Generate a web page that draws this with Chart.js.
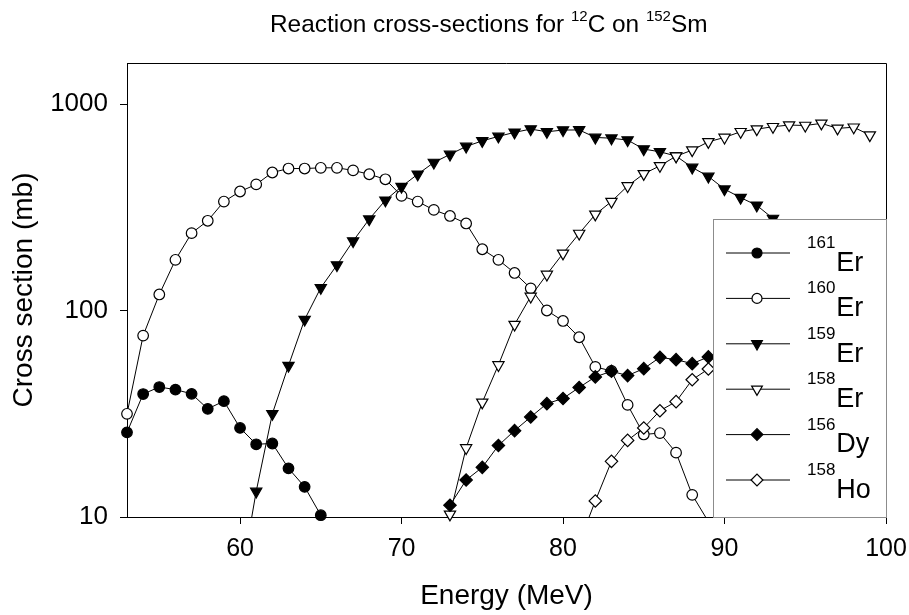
<!DOCTYPE html>
<html>
<head>
<meta charset="utf-8">
<script src="https://cdn.jsdelivr.net/npm/chart.js@4.4.1/dist/chart.umd.min.js"></script>
<style>
  body { margin: 0; background: #fff; }
  #wrap { position: relative; width: 909px; height: 615px; }
  #title { position: absolute; left: 270px; top: 10px; font: 24.4px "Liberation Sans", Arial, sans-serif; line-height: 28px; white-space: nowrap; color: #000; }
  #title sup { font-size: 15px; vertical-align: baseline; position: relative; top: -11px; }
</style>
</head>
<body>
<div id="wrap">
  <canvas id="chart" width="909" height="615"></canvas>
  <div id="title">Reaction cross-sections for <sup>12</sup>C on <sup>152</sup>Sm</div>
</div>
<script>
// energies (MeV) and cross sections (mb)
const energy161Er = [53, 54, 55, 56, 57, 58, 59, 60, 61, 62, 63, 64, 65];
const er161 = [25.7, 39.4, 42.6, 41.4, 39.5, 33.4, 36.4, 27.0, 22.5, 22.7, 17.2, 14.0, 10.2];

const energy160Er = [53, 54, 55, 56, 57, 58, 59, 60, 61, 62, 63, 64, 65, 66, 67, 68, 69, 70, 71,
  72, 73, 74, 75, 76, 77, 78, 79, 80, 81, 82, 83, 84, 85, 86, 87, 88, 89];
const er160 = [31.6, 75.6, 119.6, 176, 237, 272, 337, 377, 408, 466, 487, 487, 491, 491, 477, 457, 432, 359, 337,
  307, 287, 264, 198, 176, 152, 128, 100, 89, 74.2, 53.3, 51, 34.9, 25.1, 25.5, 20.5, 12.8, 9.5];

const energy159Er = [60, 61, 62, 63, 64, 65, 66, 67, 68, 69, 70, 71, 72, 73, 74, 75, 76, 77,
  78, 79, 80, 81, 82, 83, 84, 85, 86, 87, 88, 89, 90, 91, 92, 93, 94];
const er159 = [4.7, 13.3, 31.6, 54.1, 90.4, 128.9, 166, 217, 277, 342, 398, 457, 521, 570, 623, 663, 697, 729,
  756, 734, 748, 749, 689, 683, 669, 605, 587, 560, 493, 446, 387, 352, 323, 279, 245];

const energy158Er = [73, 74, 75, 76, 77, 78, 79, 80, 81, 82, 83, 84, 85, 86, 87, 88, 89, 90, 91,
  92, 93, 94, 95, 96, 97, 98, 99];
const er158 = [10.3, 21.6, 35.9, 54.5, 85.5, 117, 149.5, 189, 236, 292, 337, 401, 459, 502, 559, 598, 656, 689, 734,
  756, 776, 791, 787, 806, 762, 772, 707];

const energy156Dy = [73, 74, 75, 76, 77, 78, 79, 80, 81, 82, 83, 84, 85, 86, 87, 88, 89];
const dy156 = [11.4, 15.1, 17.4, 22.2, 26.2, 30.5, 35.4, 37.5, 42.4, 47.7, 50.8, 48.4, 52.3, 59.3, 57.8, 55.3, 59.6];

const energy158Ho = [81, 82, 83, 84, 85, 86, 87, 88, 89];
const ho158 = [7.5, 11.96, 18.6, 23.5, 27.0, 32.7, 36.2, 46.2, 52.1];

const legendMass = ['161', '160', '159', '158', '156', '158'];
const legendElem = ['Er', 'Er', 'Er', 'Er', 'Dy', 'Ho'];

const xTicks = [60, 70, 80, 90, 100];
const yTicks = [10, 100, 1000];
const xMin = 53, xMax = 100, yMin = 10, yMax = 1580;

const FONT = '"Liberation Sans", Arial, sans-serif';

const seriesList = [
  { x: energy161Er, y: er161, style: 'circle', radius: 5.3, rotation: 0, fill: '#000' },
  { x: energy160Er, y: er160, style: 'circle', radius: 5.3, rotation: 0, fill: '#fff' },
  { x: energy159Er, y: er159, style: 'triangle', radius: 6.5, rotation: 180, fill: '#000' },
  { x: energy158Er, y: er158, style: 'triangle', radius: 6.5, rotation: 180, fill: '#fff' },
  { x: energy156Dy, y: dy156, style: 'rectRot', radius: 6.2, rotation: 0, fill: '#000' },
  { x: energy158Ho, y: ho158, style: 'rectRot', radius: 6.2, rotation: 0, fill: '#fff' }
];

const datasets = [];
seriesList.forEach((s, i) => {
  const pts = s.x.map((e, k) => ({ x: e, y: s.y[k] }));
  // line, clipped to the plot
  datasets.push({
    data: pts, showLine: true, borderColor: '#000', borderWidth: 1,
    pointRadius: 0, clip: 0, order: 100 - 2 * i
  });
  // markers, not clipped
  datasets.push({
    data: pts.filter(p => p.y >= yMin), showLine: false,
    pointStyle: s.style, pointRadius: s.radius, pointRotation: s.rotation,
    pointBackgroundColor: s.fill, pointBorderColor: '#000', pointBorderWidth: 1.2,
    clip: false, order: 99 - 2 * i
  });
});

const framePlugin = {
  id: 'frame',
  beforeDatasetsDraw(chart) {
    const { ctx, chartArea: a } = chart;
    ctx.save();
    ctx.strokeStyle = '#000';
    ctx.lineWidth = 1;
    ctx.beginPath();
    ctx.moveTo(Math.round(a.left), Math.round(a.top) + 0.5);
    ctx.lineTo(Math.round(a.right) + 0.5, Math.round(a.top) + 0.5);
    ctx.lineTo(Math.round(a.right) + 0.5, Math.round(a.bottom));
    ctx.stroke();
    ctx.restore();
  }
};

const legendPlugin = {
  id: 'boxLegend',
  afterDatasetsDraw(chart) {
    const { ctx, chartArea: a } = chart;
    const x0 = Math.round(a.right) - 173, y0 = Math.round(a.top) + 156;
    const x1 = Math.round(a.right), y1 = Math.round(a.bottom);
    ctx.save();
    ctx.fillStyle = '#fff';
    ctx.fillRect(x0, y0, x1 - x0 + 1, y1 - y0 + 1);
    ctx.strokeStyle = '#8c8c8c';
    ctx.lineWidth = 1;
    ctx.strokeRect(x0 + 0.5, y0 + 0.5, x1 - x0, y1 - y0);

    seriesList.forEach((s, i) => {
      const y = y0 + 34 + i * 45.4;
      ctx.strokeStyle = '#000';
      ctx.lineWidth = 1;
      ctx.beginPath();
      ctx.moveTo(x0 + 13, y);
      ctx.lineTo(x0 + 77, y);
      ctx.stroke();
      ctx.fillStyle = s.fill;
      ctx.lineWidth = 1.2;
      Chart.helpers.drawPoint(ctx, { pointStyle: s.style, radius: s.radius - 0.3, rotation: s.rotation, borderWidth: 1.2 }, x0 + 44, y);

      ctx.fillStyle = '#000';
      ctx.textAlign = 'left';
      ctx.textBaseline = 'alphabetic';
      ctx.font = '17px ' + FONT;
      ctx.fillText(legendMass[i], x0 + 94, y - 5);
      const w = ctx.measureText(legendMass[i]).width;
      ctx.font = '27px ' + FONT;
      ctx.fillText(legendElem[i], x0 + 94 + w + 1, y + 17.7);
    });
    ctx.restore();
  }
};

new Chart(document.getElementById('chart'), {
  type: 'scatter',
  data: { datasets: datasets },
  options: {
    responsive: false,
    animation: false,
    events: [],
    layout: { padding: { left: 0, top: 63, right: 23, bottom: 0 } },
    plugins: {
      legend: { display: false },
      tooltip: { enabled: false },
      title: { display: false }
    },
    scales: {
      x: {
        type: 'linear',
        min: xMin,
        max: xMax,
        afterBuildTicks: axis => { axis.ticks = xTicks.map(v => ({ value: v })); },
        afterFit: axis => { axis.height = 98; axis.paddingLeft = 0; axis.paddingRight = 0; },
        grid: { drawOnChartArea: false, drawTicks: true, tickLength: 7, color: '#000' },
        border: { color: '#000', width: 1 },
        ticks: { color: '#000', padding: 10, maxRotation: 0, font: { family: FONT, size: 25 }, callback: v => String(v) },
        title: { display: true, text: 'Energy (MeV)', color: '#000', font: { family: FONT, size: 28 }, padding: { top: 0, bottom: 2 } }
      },
      y: {
        type: 'logarithmic',
        min: yMin,
        max: yMax,
        afterBuildTicks: axis => { axis.ticks = yTicks.map(v => ({ value: v })); },
        afterFit: axis => { axis.width = 127; axis.paddingTop = 0; axis.paddingBottom = 0; },
        grid: { drawOnChartArea: false, drawTicks: true, tickLength: 7, color: '#000' },
        border: { color: '#000', width: 1 },
        ticks: { color: '#000', padding: 12, font: { family: FONT, size: 26 }, callback: v => String(v) },
        title: { display: true, text: 'Cross section (mb)', color: '#000', font: { family: FONT, size: 28 }, padding: { top: 7, bottom: 0 } }
      }
    }
  },
  plugins: [framePlugin, legendPlugin]
});
</script>
</body>
</html>
